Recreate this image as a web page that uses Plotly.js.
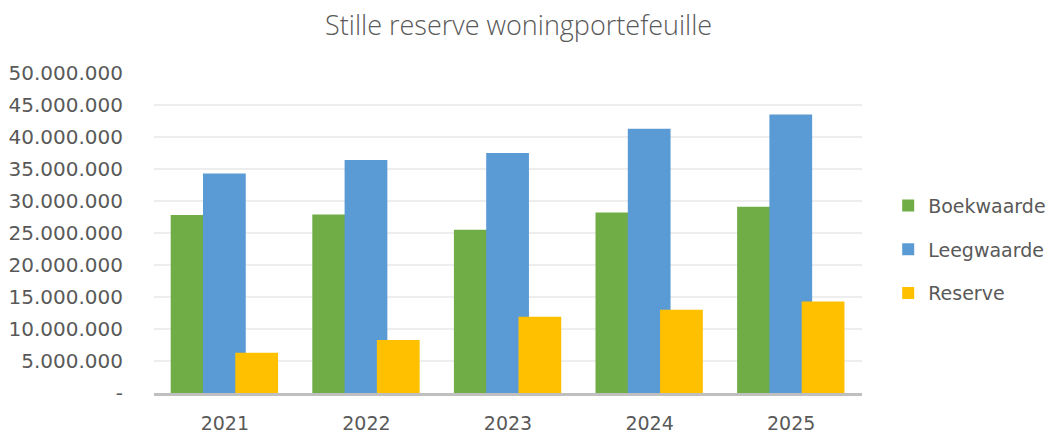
<!DOCTYPE html>
<html>
<head>
<meta charset="utf-8">
<script src="https://cdn.plot.ly/plotly-3.0.1.min.js"></script>
<style>html,body{margin:0;padding:0;background:#fff;}#chart{width:1052px;height:434px;}</style>
</head>
<body>
<div id="chart"></div>
<script>
const years = ['2021', '2022', '2023', '2024', '2025'];
const boekwaarde = [27800000, 27900000, 25500000, 28200000, 29100000];
const leegwaarde = [34300000, 36400000, 37500000, 41300000, 43500000];
const reserve = [6300000, 8300000, 11900000, 13000000, 14300000];
const yTickVals = [0, 5000000, 10000000, 15000000, 20000000, 25000000, 30000000, 35000000, 40000000, 45000000, 50000000];
const yTickText = ['-', '5.000.000', '10.000.000', '15.000.000', '20.000.000', '25.000.000', '30.000.000', '35.000.000', '40.000.000', '45.000.000', '50.000.000'];

const TICKFONT = 'DejaVu Sans, sans-serif';
const TITLEFONT = 'Open Sans, sans-serif';
const GREY = '#595959';
const w = 0.302;
function bar(name, y, color, offset) {
  return {
    type: 'bar', name: name, x: years, y: y, width: w, offset: offset,
    marker: {color: color, line: {width: 0}}, legendgroup: name,
    hoverinfo: 'x+y+name'
  };
}
const data = [
  bar('Boekwaarde', boekwaarde, '#70AD47', -0.382),
  bar('Leegwaarde', leegwaarde, '#5B9BD5', -0.154),
  bar('Reserve', reserve, '#FFC000', 0.074)
];
const layout = {
  width: 1052, height: 434,
  margin: {l: 154, r: 190, t: 73, b: 41, pad: 0, autoexpand: false},
  paper_bgcolor: '#fff', plot_bgcolor: '#fff',
  barmode: 'overlay',
  font: {family: TICKFONT, color: GREY},
  title: {text: 'Stille reserve woningportefeuille', x: 0.493, xanchor: 'center', y: 0.941, yanchor: 'middle',
          font: {family: TITLEFONT, size: 27, color: GREY, weight: 300}},
  xaxis: {type: 'category', range: [-0.5, 4.5], showgrid: false, zeroline: false,
          showline: true, linecolor: '#BFBFBF', linewidth: 2.5, ticks: '',
          ticklabelstandoff: 12, automargin: false,
          tickfont: {family: TICKFONT, size: 19, color: GREY}, fixedrange: true},
  yaxis: {range: [0, 50000000], tickvals: yTickVals, ticktext: yTickText,
          showgrid: true, gridcolor: '#EEEEEE', gridwidth: 1.5, zeroline: false,
          showline: false, ticks: '', ticklabelstandoff: 30, automargin: false,
          tickfont: {family: TICKFONT, size: 20, color: GREY}, fixedrange: true},
  showlegend: true,
  legend: {x: 1.037, xanchor: 'left', y: 0.448, yanchor: 'middle', traceorder: 'grouped',
           tracegroupgap: 16, font: {family: TICKFONT, size: 19, color: GREY},
           bgcolor: 'rgba(0,0,0,0)'}
};
Plotly.newPlot('chart', data, layout, {displayModeBar: false, staticPlot: true});
</script>
</body>
</html>
